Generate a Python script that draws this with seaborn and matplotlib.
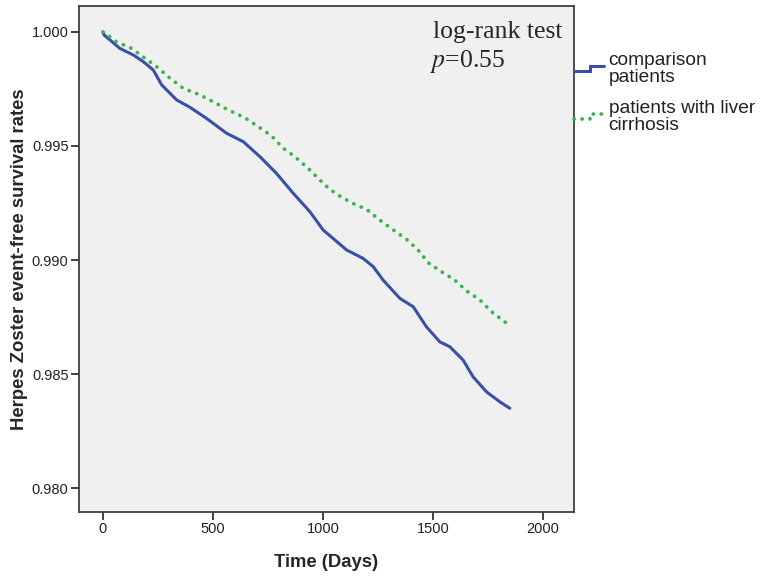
import pandas as pd
import matplotlib
matplotlib.use("Agg")
import matplotlib.pyplot as plt
import seaborn as sns
from matplotlib.lines import Line2D
from matplotlib.legend_handler import HandlerBase

# Curvas de sobrevida (dias, proporção livre de evento)
days_comparison = [0, 5, 77, 138, 183, 229, 267, 335, 395, 471, 562, 638, 714, 789,
                   865, 941, 1001, 1108, 1183, 1229, 1274, 1350, 1411, 1471, 1532,
                   1577, 1638, 1683, 1744, 1805, 1850]
surv_comparison = [1.0, 0.99987, 0.99928, 0.99899, 0.99870, 0.99833, 0.99768, 0.99702,
                   0.99670, 0.99621, 0.99556, 0.99519, 0.99453, 0.99380, 0.99293,
                   0.99212, 0.99132, 0.99044, 0.99007, 0.98971, 0.98912, 0.98832,
                   0.98795, 0.98707, 0.98641, 0.98620, 0.98561, 0.98488, 0.98422,
                   0.98378, 0.98350]

days_cirrhosis = [0, 62, 130, 191, 244, 305, 365, 441, 509, 570, 645, 706, 767, 820,
                  873, 933, 979, 1009, 1062, 1130, 1199, 1259, 1320, 1380, 1433, 1479,
                  1539, 1600, 1653, 1714, 1767, 1827, 1853]
surv_cirrhosis = [1.0, 0.99957, 0.99928, 0.99885, 0.99848, 0.99797, 0.99753, 0.99724,
                  0.99690, 0.99658, 0.99624, 0.99585, 0.99544, 0.99490, 0.99453,
                  0.99402, 0.99358, 0.99329, 0.99289, 0.99251, 0.99222, 0.99175,
                  0.99132, 0.99091, 0.99044, 0.98988, 0.98949, 0.98912, 0.98865,
                  0.98825, 0.98773, 0.98729, 0.98710]

group_labels = ["comparison\npatients", "patients with liver\ncirrhosis"]
x_ticks = [0, 500, 1000, 1500, 2000]
y_ticks = [0.980, 0.985, 0.990, 0.995, 1.000]

blue = "#3a4fa6"
green = "#3cb44e"
dots = (0, (0.05, 2.1))


class StepHandler(HandlerBase):
    # ícone em degrau, como no SPSS
    def __init__(self, ls="-"):
        super().__init__()
        self.ls = ls

    def create_artists(self, legend, orig_handle, xdescent, ydescent,
                       width, height, fontsize, trans):
        y0 = height * 0.35
        y1 = height * 0.72
        xm = width * 0.53
        line = Line2D([0, xm, xm, width], [y0, y0, y1, y1],
                      color=orig_handle.get_color(), lw=orig_handle.get_linewidth(),
                      linestyle=self.ls, solid_joinstyle="miter",
                      dash_capstyle="round", transform=trans)
        return [line]


def create_plot():
    df = pd.concat([
        pd.DataFrame({"Time": days_comparison, "Survival": surv_comparison,
                      "Group": group_labels[0]}),
        pd.DataFrame({"Time": days_cirrhosis, "Survival": surv_cirrhosis,
                      "Group": group_labels[1]}),
    ], ignore_index=True)

    sns.set_style("ticks", {"axes.facecolor": "#f0f0f0",
                            "axes.edgecolor": "#404040"})
    plt.rcParams["font.family"] = ["Liberation Sans", "DejaVu Sans"]

    fig = plt.figure(figsize=(7.63, 5.79), dpi=100)
    ax = fig.add_axes([0.1035, 0.1157, 0.6485, 0.874])

    sns.lineplot(data=df, x="Time", y="Survival", hue="Group", style="Group",
                 palette=[blue, green],
                 dashes={group_labels[0]: "", group_labels[1]: (0.05, 2.1)},
                 linewidth=2.4, ax=ax, legend=False, estimator=None,
                 sort=False)
    ax.lines[0].set_linewidth(2.2)
    ax.lines[1].set_dash_capstyle("round")
    ax.lines[1].set_linewidth(2.7)

    ax.set_xlim(-109, 2141)
    ax.set_ylim(0.97895, 1.00114)
    ax.set_xticks(x_ticks)
    ax.set_yticks(y_ticks)
    ax.set_xticklabels([str(t) for t in x_ticks], fontsize=10.5, color="#222222")
    ax.set_yticklabels([f"{t:.3f}" for t in y_ticks], fontsize=10.5, color="#222222")
    ax.tick_params(length=6, width=1.3, color="#333333", pad=1.5)
    for s in ax.spines.values():
        s.set_linewidth(1.3)

    ax.set_xlabel("Time (Days)", fontsize=13.3, fontweight="bold", labelpad=13)
    ax.set_ylabel("Herpes Zoster event-free survival rates", fontsize=13.3,
                  fontweight="bold", labelpad=3)

    # anotação do teste log-rank
    ax.text(0.715, 0.9368, "log-rank test", transform=ax.transAxes,
            fontsize=18.5, family="Liberation Serif", va="baseline", ha="left")
    ax.text(0.709, 0.8794, r"$p$=0.55", transform=ax.transAxes,
            fontsize=18.5, family="Liberation Serif", va="baseline", ha="left",
            math_fontfamily="stix")

    handles = [Line2D([], [], color=blue, lw=2.2),
               Line2D([], [], color=green, lw=2.7)]
    leg = ax.legend(handles, group_labels, loc="upper left",
                    bbox_to_anchor=(1.0, 0.909), frameon=False, fontsize=13.8,
                    handlelength=1.56, handletextpad=0.26, borderaxespad=0,
                    borderpad=0, labelspacing=0.76,
                    handler_map={handles[0]: StepHandler("-"),
                                 handles[1]: StepHandler(dots)})
    for t in leg.get_texts():
        t.set_color("#222222")
        t.set_linespacing(0.98)

    fig.savefig("out.png", dpi=100)
    plt.close(fig)


if __name__ == "__main__":
    create_plot()
